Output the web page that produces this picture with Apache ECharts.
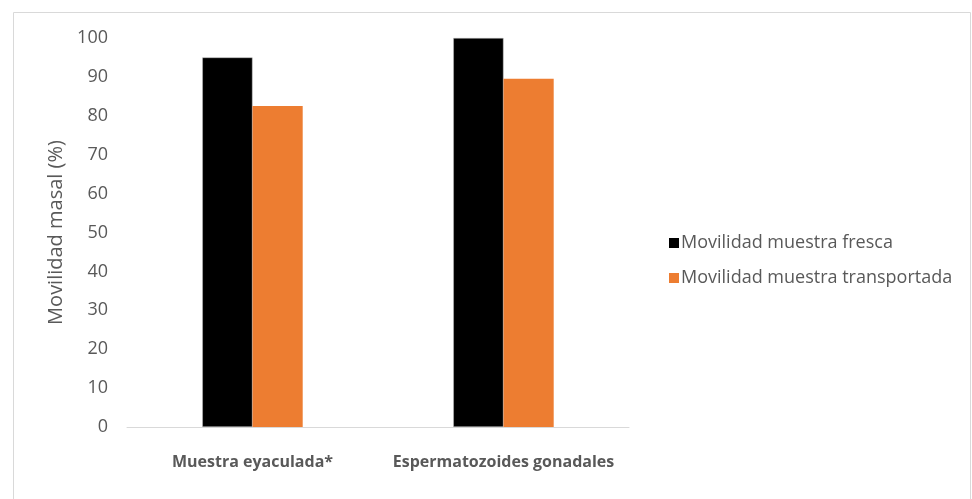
<!DOCTYPE html>
<html>
<head>
<meta charset="utf-8">
<script src="https://cdn.jsdelivr.net/npm/echarts@6/dist/echarts.min.js"></script>
<style>html,body{margin:0;padding:0;background:#fff}#c{width:972px;height:499px}</style>
</head>
<body>
<div id="c"></div>
<script>
const categories = ['Muestra eyaculada*', 'Espermatozoides gonadales'];
const seriesNames = ['Movilidad muestra fresca', 'Movilidad muestra transportada'];
const fresca = [95, 100];
const transportada = [82.5, 89.5];
const yTicks = [0, 10, 20, 30, 40, 50, 60, 70, 80, 90, 100];

const chart = echarts.init(document.getElementById('c'), null, {renderer: 'canvas'});
const font = '"Open Sans", sans-serif';
chart.setOption({
  animation: false,
  textStyle: {fontFamily: font},
  graphic: [{
    type: 'rect', shape: {x: 13.5, y: 12.5, width: 957, height: 500},
    style: {fill: 'none', stroke: '#d9d9d9', lineWidth: 1}, silent: true
  }],
  grid: {left: 127, right: 343, top: 38, bottom: 72, containLabel: false},
  legend: {
    orient: 'vertical', left: 664, top: 229, itemGap: 17,
    itemWidth: 10, itemHeight: 10, icon: 'rect',
    itemStyle: {borderWidth: 0},
    textStyle: {fontSize: 18, color: '#595959', fontFamily: font, padding: [0, 0, 0, -3]},
    data: seriesNames
  },
  xAxis: {
    type: 'category', data: categories,
    axisLine: {lineStyle: {color: '#d9d9d9', width: 1}},
    axisTick: {show: false},
    axisLabel: {fontSize: 16, fontWeight: 'bold', color: '#595959', margin: 27, interval: 0, fontFamily: font}
  },
  yAxis: {
    type: 'value', min: 0, max: 100, interval: 10,
    name: 'Movilidad masal (%)', nameLocation: 'middle', nameGap: 58, nameRotate: 90,
    nameTextStyle: {fontSize: 20, color: '#595959', fontFamily: font},
    axisLine: {show: false}, axisTick: {show: false},
    splitLine: {show: false},
    axisLabel: {fontSize: 18, color: '#595959', margin: 19, fontFamily: font,
      formatter: v => yTicks.includes(v) ? String(v) : ''}
  },
  series: [
    {name: seriesNames[0], type: 'bar', data: fresca, barGap: '0%', barCategoryGap: '60%',
     itemStyle: {color: '#000000', borderColor: '#bfbfbf', borderWidth: 0.5}},
    {name: seriesNames[1], type: 'bar', data: transportada,
     itemStyle: {color: '#ed7d31'}}
  ]
});
</script>
</body>
</html>
